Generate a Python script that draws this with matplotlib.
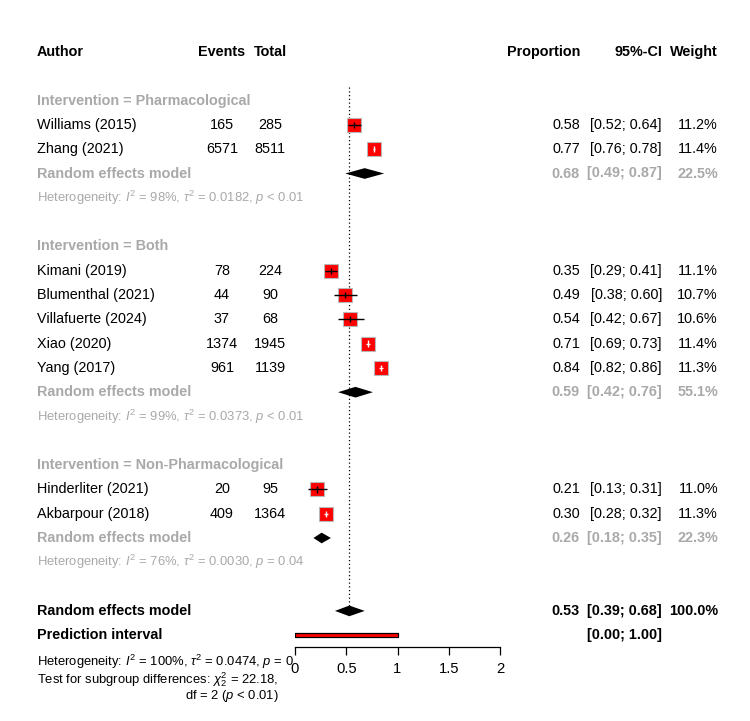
import matplotlib
matplotlib.use("Agg")
import matplotlib.pyplot as plt
import numpy as np

plt.rcParams['font.family'] = ['Liberation Sans', 'DejaVu Sans']
plt.rcParams['mathtext.fontset'] = 'custom'
plt.rcParams['mathtext.rm'] = 'Liberation Sans'
plt.rcParams['mathtext.it'] = 'Liberation Sans:italic'
plt.rcParams['mathtext.bf'] = 'Liberation Sans:bold'
plt.rcParams['mathtext.sf'] = 'Liberation Sans'

# ---------------- data ----------------
groups = ["Pharmacological", "Both", "Non-Pharmacological"]
studies = ["Williams (2015)", "Zhang (2021)", "Kimani (2019)", "Blumenthal (2021)",
           "Villafuerte (2024)", "Xiao (2020)", "Yang (2017)", "Hinderliter (2021)",
           "Akbarpour (2018)"]
study_group = [0, 0, 1, 1, 1, 1, 1, 2, 2]
events = [165, 6571, 78, 44, 37, 1374, 961, 20, 409]
totals = [285, 8511, 224, 90, 68, 1945, 1139, 95, 1364]
prop = [0.58, 0.77, 0.35, 0.49, 0.54, 0.71, 0.84, 0.21, 0.30]
ci_lo = [0.52, 0.76, 0.29, 0.38, 0.42, 0.69, 0.82, 0.13, 0.28]
ci_hi = [0.64, 0.78, 0.41, 0.60, 0.67, 0.73, 0.86, 0.31, 0.32]
weights = [11.2, 11.4, 11.1, 10.7, 10.6, 11.4, 11.3, 11.0, 11.3]

sub_est = [0.68, 0.59, 0.26]
sub_lo = [0.49, 0.42, 0.18]
sub_hi = [0.87, 0.76, 0.35]
sub_w = [22.5, 55.1, 22.3]
sub_i2 = ["98%", "99%", "76%"]
sub_tau2 = ["0.0182", "0.0373", "0.0030"]
sub_p = ["< 0.01", "< 0.01", "= 0.04"]

overall_est, overall_lo, overall_hi, overall_w = 0.53, 0.39, 0.68, 100.0
pi_lo, pi_hi = 0.00, 1.00
overall_i2, overall_tau2, overall_p = "100%", "0.0474", "= 0"
test_chi2, test_df, test_p = "22.18", "2", "< 0.01"
xticks = [0, 0.5, 1, 1.5, 2]

# ---------------- layout ----------------
W, H, DPI = 750, 721, 100
fig = plt.figure(figsize=(W / DPI, H / DPI), dpi=DPI)
fig.patch.set_facecolor('white')

x0_px, x2_px = 295, 500          # pixel positions of x=0 and x=2
row_px = 24.3
top_px = 52                       # header row pixel
axis_row = 24.5
ax_left = x0_px / W
ax_w = (x2_px - x0_px) / W
ax_bottom = (H - (top_px + axis_row * row_px)) / H
ax = fig.add_axes([ax_left, ax_bottom, ax_w, 1 - ax_bottom])
ax.set_xlim(min(xticks), max(xticks))
ax.set_ylim(axis_row, -top_px / row_px)
ax.set_facecolor('none')
for s in ['top', 'right', 'left']:
    ax.spines[s].set_visible(False)
ax.spines['bottom'].set_bounds(min(xticks), max(xticks))
ax.spines['bottom'].set_linewidth(0.9)
ax.set_yticks([])
ax.set_xticks(xticks)
ax.set_xticklabels([f"{t:g}" for t in xticks], fontsize=10.6)
ax.tick_params(axis='x', direction='out', length=5.5, width=0.9, pad=5)

px_per_unit = (x2_px - x0_px) / (max(xticks) - min(xticks))
def col(px):
    return (px - x0_px) / px_per_unit

X_AUTH = col(37)
X_EV = col(222)
X_TOT = col(270)
X_PROP = col(580)
X_CI = col(662)
X_W = col(718)

FS = 10.4
FS_HET = 9.4
GRAY = '#A9A9A9'

def txt(x, y, s, ha='left', color='black', bold=False, fs=FS):
    ax.text(x, y, s, ha=ha, va='center', color=color, fontsize=fs,
            fontweight='bold' if bold else 'normal', clip_on=False)

# header
txt(X_AUTH, 0, "Author", bold=True)
txt(X_EV, 0, "Events", ha='center', bold=True)
txt(X_TOT, 0, "Total", ha='center', bold=True)
txt(X_PROP, 0, "Proportion", ha='right', bold=True)
txt(X_CI, 0, "95%-CI", ha='right', bold=True)
txt(X_W, 0, "Weight", ha='right', bold=True)

max_w = max(weights)
max_side_pt = 10.0
row = 2
for g, gname in enumerate(groups):
    txt(X_AUTH, row, f"Intervention = {gname}", color=GRAY, bold=True)
    row += 1
    for i in [k for k in range(len(studies)) if study_group[k] == g]:
        side_pt = max_side_pt * np.sqrt(weights[i] / max_w)
        half_units = (side_pt / 72 * DPI) / 2 / px_per_unit * 0.8
        inside = ci_lo[i] >= prop[i] - half_units and ci_hi[i] <= prop[i] + half_units
        ax.plot([prop[i]], [row], marker='s', markersize=side_pt,
                markerfacecolor='red', markeredgecolor='#B8B8B8',
                markeredgewidth=0.8, linestyle='none', zorder=3)
        lc = 'white' if inside else 'black'
        ax.hlines(row, ci_lo[i], ci_hi[i], color=lc, lw=1.0, zorder=4)
        ax.vlines(prop[i], row - 0.13, row + 0.13, color=lc, lw=1.0, zorder=4)
        txt(X_AUTH, row, studies[i])
        txt(X_EV, row, f"{events[i]}", ha='center')
        txt(X_TOT, row, f"{totals[i]}", ha='center')
        txt(X_PROP, row, f"{prop[i]:.2f}", ha='right')
        txt(X_CI, row, f"[{ci_lo[i]:.2f}; {ci_hi[i]:.2f}]", ha='right')
        txt(X_W, row, f"{weights[i]:.1f}%", ha='right')
        row += 1
    # subgroup random effects
    dh = 0.22
    ax.fill([sub_lo[g], sub_est[g], sub_hi[g], sub_est[g]],
            [row, row - dh, row, row + dh], color='black', lw=0, zorder=3)
    txt(X_AUTH, row, "Random effects model", color=GRAY, bold=True)
    txt(X_PROP, row, f"{sub_est[g]:.2f}", ha='right', color=GRAY, bold=True)
    txt(X_CI, row, f"[{sub_lo[g]:.2f}; {sub_hi[g]:.2f}]", ha='right', color=GRAY, bold=True)
    txt(X_W, row, f"{sub_w[g]:.1f}%", ha='right', color=GRAY, bold=True)
    row += 1
    txt(X_AUTH, row,
        rf"Heterogeneity: $I^2$ = {sub_i2[g]}, $\tau^2$ = {sub_tau2[g]}, $p$ {sub_p[g]}",
        color=GRAY, fs=FS_HET)
    row += 2

# overall
ov_row = row
dh = 0.22
ax.fill([overall_lo, overall_est, overall_hi, overall_est],
        [ov_row, ov_row - dh, ov_row, ov_row + dh], color='black', lw=0, zorder=3)
txt(X_AUTH, ov_row, "Random effects model", bold=True)
txt(X_PROP, ov_row, f"{overall_est:.2f}", ha='right', bold=True)
txt(X_CI, ov_row, f"[{overall_lo:.2f}; {overall_hi:.2f}]", ha='right', bold=True)
txt(X_W, ov_row, f"{overall_w:.1f}%", ha='right', bold=True)

pi_row = ov_row + 1
ax.fill_between([pi_lo, pi_hi], pi_row - 0.08, pi_row + 0.08,
                facecolor='red', edgecolor='black', lw=0.9, zorder=3)
txt(X_AUTH, pi_row, "Prediction interval", bold=True)
txt(X_CI, pi_row, f"[{pi_lo:.2f}; {pi_hi:.2f}]", ha='right', bold=True)

# reference line at overall estimate
ax.vlines(overall_est, 1.45, ov_row - dh, color='black', lw=0.9,
          linestyles=(0, (1, 2)), zorder=2)

# bottom texts
def row_of(px):
    return (px - top_px) / row_px
txt(X_AUTH, row_of(662),
    rf"Heterogeneity: $I^2$ = {overall_i2}, $\tau^2$ = {overall_tau2}, $p$ {overall_p}",
    fs=FS_HET)
txt(X_AUTH, row_of(680),
    rf"Test for subgroup differences: $\chi^2_{{{test_df}}}$ = {test_chi2},", fs=FS_HET)
txt(col(279), row_of(696), rf"df = {test_df} ($p$ {test_p})", ha='right', fs=FS_HET)

fig.savefig("out.png", dpi=DPI, facecolor='white')
